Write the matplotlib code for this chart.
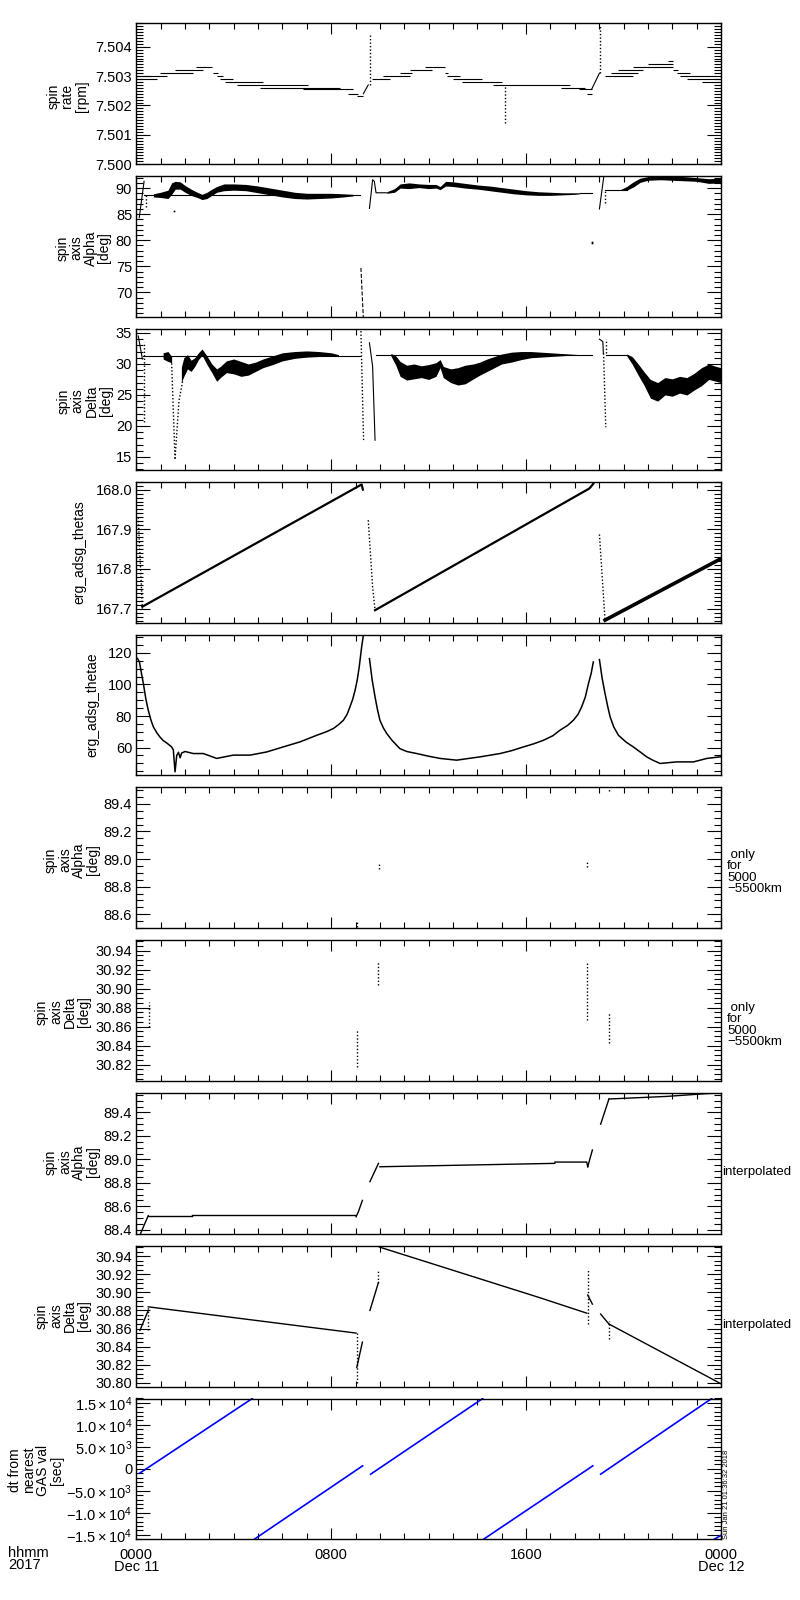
import matplotlib
matplotlib.use("Agg")
import matplotlib.pyplot as plt
from matplotlib.ticker import MultipleLocator, FixedLocator, FuncFormatter

plt.rcParams['font.family'] = ['Liberation Sans', 'DejaVu Sans']
plt.rcParams['mathtext.fontset'] = 'custom'
plt.rcParams['mathtext.rm'] = 'Liberation Sans'
plt.rcParams['mathtext.it'] = 'Liberation Sans:italic'
plt.rcParams['mathtext.bf'] = 'Liberation Sans:bold'
plt.rcParams['axes.unicode_minus'] = True

# ---------------- time axis ----------------
x_ticks = [0, 8, 16, 24]
x_ticklabels = ["0000\nDec 11", "0800", "1600", "0000\nDec 12"]

# ---------------- panel 1: spin rate [rpm] (horizontal steps) ----------------
rate_seg_t0 = [0.00, 0.00, 0.97, 1.59, 2.45, 3.16, 3.30, 3.44, 3.64, 4.12, 5.08, 6.86, 8.70, 9.05,
               9.66, 10.14, 10.82, 11.24, 11.85, 12.67, 12.74, 13.01, 13.36, 14.65, 17.43, 18.17, 18.49,
               19.24, 19.50, 19.79, 20.40, 21.02, 21.84, 22.04, 22.18, 22.32, 22.59, 23.21]
rate_seg_t1 = [1.25, 0.84, 2.34, 2.75, 3.09, 3.37, 3.57, 3.98, 5.21, 7.06, 8.36, 8.91, 9.11, 9.32,
               10.41, 11.24, 11.30, 12.13, 12.67, 12.81, 13.29, 14.18, 15.00, 17.80, 18.42, 18.69, 18.69,
               20.40, 20.60, 20.81, 22.04, 22.04, 22.04, 22.25, 22.73, 23.48, 24.00, 24.00]
rate_seg_v = [7.5030, 7.5029, 7.5031, 7.5032, 7.5033, 7.5031, 7.5030, 7.5029, 7.5028, 7.5027, 7.5026, 7.50255, 7.5024, 7.50233,
              7.5029, 7.5030, 7.5031, 7.5032, 7.5033, 7.5031, 7.5030, 7.5029, 7.5028, 7.5027, 7.5026, 7.50255, 7.5024,
              7.5030, 7.5031, 7.5032, 7.5033, 7.5034, 7.5035, 7.5032, 7.5031, 7.5030, 7.5029, 7.5028]
rate_ramp1_t = [9.32, 9.52]
rate_ramp1_v = [7.5024, 7.5027]
rate_ramp2_t = [18.69, 19.01]
rate_ramp2_v = [7.50255, 7.5031]
rate_spike_t = [9.59, 15.15, 19.04]
rate_spike_lo = [7.5027, 7.5014, 7.5031]
rate_spike_hi = [7.50447, 7.5027, 7.50475]

# ---------------- panel 2: spin axis Alpha [deg] ----------------
alpha_rise0_t = [0.12, 0.32]
alpha_rise0_v = [84.3, 91.3]
alpha_flat1_t = [0.32, 9.19]
alpha_flat1_v = [88.6, 88.6]
alpha_band1_t = [0.70, 1.00, 1.30, 1.45, 1.60, 1.80, 2.00, 2.25, 2.50, 2.70, 2.90, 3.10, 3.30, 3.60, 4.00,
                 4.50, 5.00, 5.50, 6.00, 6.50, 7.00, 7.50, 8.00, 8.50, 8.90]
alpha_band1_lo = [88.3, 88.2, 88.0, 88.8, 89.8, 89.8, 89.2, 88.6, 88.2, 87.8, 88.0, 88.6, 89.2, 89.5, 89.6,
                  89.5, 89.1, 88.7, 88.3, 88.0, 87.9, 88.0, 88.1, 88.3, 88.5]
alpha_band1_hi = [88.9, 89.2, 89.6, 91.0, 91.3, 91.2, 90.5, 89.8, 89.2, 88.8, 89.2, 89.8, 90.3, 90.8, 90.8,
                  90.7, 90.4, 90.0, 89.6, 89.2, 89.0, 89.0, 89.0, 88.9, 88.8]
alpha_drop1_t = [9.22, 9.33]
alpha_drop1_v = [74.7, 64.0]
alpha_rec1_t = [9.57, 9.70, 9.77, 9.84, 10.28]
alpha_rec1_v = [86.1, 91.6, 91.3, 89.1, 89.1]
alpha_band2_t = [10.28, 10.6, 10.83, 11.2, 11.6, 12.0, 12.3, 12.47, 12.7, 13.0, 13.5, 14.0, 14.5, 15.0,
                 15.5, 16.0, 16.5, 17.0, 17.5, 18.0, 18.2]
alpha_band2_lo = [89.0, 89.2, 90.0, 89.9, 90.1, 89.9, 90.0, 89.7, 90.4, 90.3, 90.0, 89.8, 89.5, 89.2,
                  88.9, 88.7, 88.6, 88.6, 88.7, 88.8, 88.9]
alpha_band2_hi = [89.3, 89.9, 90.8, 91.0, 90.8, 90.7, 90.7, 90.3, 91.3, 91.2, 90.9, 90.6, 90.4, 90.1,
                  89.8, 89.5, 89.3, 89.2, 89.1, 89.1, 89.1]
alpha_flat2_t = [18.2, 18.69]
alpha_flat2_v = [89.04, 89.04]
alpha_rise2_t = [19.01, 19.20]
alpha_rise2_v = [86.0, 92.6]
alpha_flat3_t = [19.24, 20.13]
alpha_flat3_v = [89.7, 89.7]
alpha_band3_t = [19.9, 20.13, 20.4, 20.68, 21.0, 21.5, 22.0, 22.5, 23.0, 23.5, 24.0]
alpha_band3_lo = [89.6, 89.6, 90.2, 91.1, 91.5, 91.6, 91.5, 91.4, 91.3, 90.9, 91.0]
alpha_band3_hi = [89.8, 90.3, 91.2, 91.9, 92.2, 92.3, 92.3, 92.2, 92.0, 91.8, 91.9]
alpha_dot_t = [0.39, 19.24]
alpha_dot_lo = [86.4, 87.1]
alpha_dot_hi = [88.6, 89.7]
alpha_pts_t = [1.53, 18.69, 18.72]
alpha_pts_v = [85.6, 79.5, 79.7]

# ---------------- panel 3: spin axis Delta [deg] ----------------
delta_start_t = [0.08, 0.25]
delta_start_v = [34.5, 30.8]
delta_flat1_t = [0.29, 9.20]
delta_flat1_v = [31.3, 31.3]
delta_band1a_t = [1.10, 1.30, 1.45]
delta_band1a_lo = [30.8, 30.4, 30.2]
delta_band1a_hi = [31.8, 32.0, 31.2]
delta_vleft_t = [1.45, 1.59]
delta_vleft_v = [30.1, 14.7]
delta_vright_t = [1.59, 1.75, 1.91]
delta_vright_v = [14.7, 24.0, 27.4]
delta_band1_t = [1.85, 1.95, 2.10, 2.25, 2.40, 2.55, 2.70, 2.90, 3.10, 3.30, 3.45, 3.70, 4.00, 4.30,
                 4.60, 4.90, 5.20, 5.60, 6.00, 6.50, 7.00, 7.50, 8.00, 8.30]
delta_band1_lo = [27.0, 28.0, 29.2, 28.8, 29.6, 30.7, 31.4, 29.9, 28.6, 27.2, 27.8, 28.6, 28.4, 28.0,
                  28.2, 28.8, 29.4, 29.9, 30.5, 30.9, 31.1, 31.2, 31.2, 31.3]
delta_band1_hi = [29.5, 31.0, 31.5, 30.6, 31.0, 31.8, 32.4, 31.3, 30.0, 29.2, 29.6, 30.5, 30.8, 30.4,
                  30.0, 30.3, 30.8, 31.3, 31.8, 32.0, 32.1, 32.0, 31.8, 31.5]
delta_drop1_t = [9.22, 9.33]
delta_drop1_v = [35.3, 17.5]
delta_rec1_t = [9.57, 9.70, 9.80]
delta_rec1_v = [33.4, 29.6, 17.7]
delta_flat2_t = [9.84, 18.69]
delta_flat2_v = [31.45, 31.45]
delta_band2_t = [10.45, 10.65, 10.83, 11.1, 11.4, 11.7, 12.0, 12.3, 12.47, 12.6, 12.9, 13.2, 13.5, 13.84,
                 14.1, 14.4, 14.7, 15.0, 15.4, 15.8, 16.2, 16.6, 17.0, 17.4, 17.8, 18.2]
delta_band2_lo = [31.3, 29.8, 28.0, 27.4, 27.6, 27.8, 27.5, 28.0, 29.4, 27.8, 27.0, 26.6, 26.8, 27.6,
                  28.2, 28.8, 29.4, 30.0, 30.3, 30.7, 31.0, 31.1, 31.2, 31.3, 31.4, 31.4]
delta_band2_hi = [31.7, 31.3, 30.4, 29.8, 30.0, 29.7, 29.9, 30.2, 30.7, 29.6, 29.2, 29.4, 29.8, 30.0,
                  30.3, 30.8, 31.2, 31.6, 31.9, 32.0, 32.0, 31.9, 31.8, 31.7, 31.6, 31.5]
delta_rec2_t = [19.01, 19.15, 19.17]
delta_rec2_v = [34.0, 33.6, 31.7]
delta_drop2_t = [19.18, 19.27]
delta_drop2_v = [31.7, 19.8]
delta_flat3_t = [19.27, 20.13]
delta_flat3_v = [31.44, 31.44]
delta_band3_t = [20.13, 20.35, 20.6, 20.85, 21.1, 21.4, 21.7, 22.0, 22.3, 22.6, 22.9, 23.2, 23.5, 23.8, 24.0]
delta_band3_lo = [31.3, 30.0, 28.2, 26.5, 24.5, 24.0, 25.0, 24.8, 25.3, 25.0, 25.8, 26.5, 27.5, 27.2, 27.0]
delta_band3_hi = [31.6, 31.2, 30.0, 28.7, 27.5, 27.0, 27.8, 27.6, 28.0, 27.8, 28.5, 29.4, 30.0, 29.6, 29.4]
delta_dot_t = [0.30, 19.28]
delta_dot_lo = [20.7, 31.7]
delta_dot_hi = [33.6, 34.0]

# ---------------- panel 4: erg_adsg_thetas ----------------
thetas_drop0_t = [0.08, 0.25]
thetas_drop0_v = [167.93, 167.70]
thetas_ramp1_t = [0.25, 9.25, 9.30]
thetas_ramp1_v = [167.705, 168.013, 168.000]
thetas_drop1_t = [9.52, 9.70, 9.80]
thetas_drop1_v = [167.923, 167.755, 167.696]
thetas_ramp2_t = [9.80, 18.60, 18.76]
thetas_ramp2_v = [167.696, 168.003, 168.015]
thetas_drop2_t = [19.01, 19.24]
thetas_drop2_v = [167.887, 167.671]
thetas_ramp3_t = [19.24, 24.00]
thetas_ramp3_v = [167.671, 167.826]

# ---------------- panel 5: erg_adsg_thetae ----------------
thetae_a_t = [0.05, 0.13, 0.20, 0.29, 0.39, 0.49, 0.60, 0.70, 0.85, 0.97, 1.10, 1.25, 1.45, 1.52, 1.59,
              1.66, 1.73, 1.80, 1.86, 2.00, 2.34, 2.75, 3.30, 3.98, 4.67, 5.35, 6.03, 6.72, 7.41, 7.80,
              8.09, 8.30, 8.50, 8.65, 8.77, 8.88, 8.98, 9.07, 9.15, 9.25, 9.32]
thetae_a_v = [116.5, 114.3, 108.0, 100.6, 91.0, 83.7, 77.5, 73.1, 69.2, 66.7, 64.5, 62.9, 60.4, 58.5, 44.6,
              55.0, 57.0, 53.5, 56.5, 57.5, 56.2, 56.2, 53.1, 55.2, 55.2, 57.2, 60.4, 63.6, 67.8, 70.0,
              72.1, 74.5, 77.3, 81.0, 85.8, 90.5, 96.3, 103.0, 111.1, 123.8, 131.2]
thetae_b_t = [9.57, 9.68, 9.80, 9.90, 10.00, 10.14, 10.28, 10.50, 10.82, 11.10, 11.51, 12.00, 12.47, 13.15,
              13.60, 14.11, 14.93, 15.40, 15.89, 16.30, 16.71, 17.10, 17.39, 17.70, 17.94, 18.13, 18.28,
              18.43, 18.56, 18.67, 18.76]
thetae_b_v = [116.4, 103.0, 92.1, 84.0, 77.3, 72.5, 68.9, 64.5, 59.3, 57.5, 56.2, 54.5, 53.1, 52.0,
              53.0, 54.1, 56.2, 58.0, 60.4, 62.3, 64.6, 67.5, 71.0, 74.0, 77.3, 81.0, 85.8,
              92.0, 100.6, 107.0, 114.3]
thetae_c_t = [19.01, 19.12, 19.24, 19.35, 19.45, 19.60, 19.79, 20.10, 20.40, 20.70, 20.95, 21.20, 21.50,
              22.18, 22.87, 23.42, 23.96, 24.00]
thetae_c_v = [115.8, 104.0, 94.3, 86.0, 79.4, 73.0, 67.8, 63.5, 60.4, 57.0, 54.1, 52.0, 49.9,
              50.9, 50.9, 53.1, 54.1, 54.2]

# ---------------- panel 6: Alpha, only 5000-5500 km ----------------
alpha_km_t = [9.05, 9.96, 18.49, 19.42]
alpha_km_lo = [88.51, 88.93, 88.94, 89.49]
alpha_km_hi = [88.56, 88.97, 88.98, 89.52]

# ---------------- panel 7: Delta, only 5000-5500 km ----------------
delta_km_t = [0.52, 9.05, 9.94, 18.49, 19.42]
delta_km_lo = [30.860, 30.818, 30.904, 30.867, 30.843]
delta_km_hi = [30.886, 30.857, 30.928, 30.927, 30.874]

# ---------------- panel 8: Alpha interpolated ----------------
alpha_i_lines_t = [[0.18, 0.49], [0.49, 2.27], [2.27, 8.98], [9.02, 9.11, 9.28], [9.59, 9.94],
                   [10.00, 17.18], [17.18, 18.49, 18.53], [18.53, 18.72], [19.06, 19.40],
                   [19.40, 21.77, 23.34, 24.00]]
alpha_i_lines_v = [[88.37, 88.52], [88.513, 88.513], [88.522, 88.522], [88.51, 88.55, 88.65], [88.81, 88.966],
                   [88.937, 88.966], [88.977, 88.977, 88.937], [88.937, 89.08], [89.30, 89.515],
                   [89.515, 89.537, 89.56, 89.567]]

# ---------------- panel 9: Delta interpolated ----------------
delta_i_lines_t = [[0.15, 0.49], [0.49, 9.02], [9.05, 9.28], [9.59, 9.94], [9.98, 16.57, 18.49],
                   [18.53, 18.72], [19.06, 19.40], [19.40, 24.00]]
delta_i_lines_v = [[30.858, 30.880], [30.884, 30.855], [30.817, 30.845], [30.880, 30.911], [30.950, 30.894, 30.877],
                   [30.897, 30.887], [30.876, 30.865], [30.865, 30.799]]
delta_i_dot_t = [0.50, 9.05, 9.94, 18.53, 19.40]
delta_i_dot_lo = [30.858, 30.800, 30.910, 30.865, 30.849]
delta_i_dot_hi = [30.884, 30.855, 30.925, 30.925, 30.868]

# ---------------- panel 10: dt from nearest GAS val [sec] ----------------
dt_lines_t = [[0.13, 4.76], [4.84, 9.29], [9.62, 14.22], [14.25, 18.74], [19.06, 23.62], [23.72, 24.00]]
dt_lines_v = [[-1000, 16000], [-16000, 700], [-1200, 16000], [-16000, 700], [-1200, 16000], [-16000, -15100]]
dt_ticks = [-15000, -10000, -5000, 0, 5000, 10000, 15000]
dt_ticklabels = [r'$-1.5\times10^{4}$', r'$-1.0\times10^{4}$', r'$-5.0\times10^{3}$', '0',
                 r'$5.0\times10^{3}$', r'$1.0\times10^{4}$', r'$1.5\times10^{4}$']

ylabels = ["spin\nrate\n[rpm]", "spin\naxis\nAlpha\n[deg]", "spin\naxis\nDelta\n[deg]",
           "erg_adsg_thetas", "erg_adsg_thetae", "spin\naxis\nAlpha\n[deg]", "spin\naxis\nDelta\n[deg]",
           "spin\naxis\nAlpha\n[deg]", "spin\naxis\nDelta\n[deg]", "dt from\nnearest\nGAS val\n[sec]"]
right_labels = [None, None, None, None, None, " only\nfor\n5000\n\u22125500km", " only\nfor\n5000\n\u22125500km",
                "interpolated", "interpolated", None]

# ---------------- layout (pixels) ----------------
W, H = 800, 1600
fig = plt.figure(figsize=(8, 16), dpi=100)
left_px, right_px = 136.3, 721.0
top0, step, ph = 23.3, 152.8, 140.8

ylims = [(7.5000, 7.5048), (65.3, 92.3), (12.95, 35.65), (167.665, 168.02), (42.4, 131.7),
         (88.50, 89.52), (30.803, 30.951), (88.366, 89.567), (30.796, 30.9515), (-16000, 16000)]
ymajor = [0.001, 5, 5, 0.1, 20, 0.2, 0.02, 0.2, 0.02, 5000]
yminor = [0.0001, 1, 1, 0.01, 5, 0.05, 0.005, 0.05, 0.005, 1000]
yfmt = ['%.3f', '%d', '%d', '%.1f', '%d', '%.1f', '%.2f', '%.1f', '%.2f', None]
ylabel_xy = [(67.5, 96), (83.5, 248), (84.5, 401), (79.5, 552.5), (92, 705), (72, 860), (63, 1012),
             (72, 1162), (63, 1316), (36, 1470)]
right_xy = [None, None, None, None, None, (727, 872), (727, 1025), (722, 1172), (722, 1325), None]

FS_TICK = 10.5
FS_LAB = 10

axes = []
for i in range(10):
    top = top0 + step * i
    ax = fig.add_axes([left_px / W, 1 - (top + ph) / H, (right_px - left_px) / W, ph / H])
    ax.set_xlim(0, 24)
    ax.set_ylim(*ylims[i])
    ax.xaxis.set_major_locator(FixedLocator(x_ticks))
    ax.xaxis.set_minor_locator(MultipleLocator(1))
    ax.yaxis.set_major_locator(MultipleLocator(ymajor[i]))
    ax.yaxis.set_minor_locator(MultipleLocator(yminor[i]))
    ax.tick_params(axis='both', which='both', direction='in', top=True, right=True, width=0.8, colors='k')
    ax.tick_params(axis='x', which='major', length=8)
    ax.tick_params(axis='x', which='minor', length=4)
    ax.tick_params(axis='y', which='major', length=10, labelsize=FS_TICK, pad=3)
    ax.tick_params(axis='y', which='minor', length=5)
    if yfmt[i] is not None:
        f = yfmt[i]
        ax.yaxis.set_major_formatter(FuncFormatter(lambda v, p, f=f: (f % v) if f != '%d' else '%d' % round(v)))
    for s in ax.spines.values():
        s.set_linewidth(1.0)
    if i < 9:
        ax.set_xticklabels([])
    axes.append(ax)
    fig.text(ylabel_xy[i][0] / W, 1 - ylabel_xy[i][1] / H, ylabels[i], rotation=90, ha='center', va='center',
             fontsize=FS_LAB, linespacing=1.0, multialignment='center')
    if right_labels[i]:
        fig.text(right_xy[i][0] / W, 1 - right_xy[i][1] / H, right_labels[i], ha='left', va='center',
                 fontsize=9.5, linespacing=0.95, multialignment='left')

K = 'k'
LW = 0.8
DOT = (0, (1, 1.5))

# panel 1
ax = axes[0]
ax.hlines(rate_seg_v, rate_seg_t0, rate_seg_t1, colors=K, lw=LW)
ax.plot(rate_ramp1_t, rate_ramp1_v, color=K, lw=LW)
ax.plot(rate_ramp2_t, rate_ramp2_v, color=K, lw=LW)
ax.vlines(rate_spike_t, rate_spike_lo, rate_spike_hi, colors=K, lw=1.0, linestyles=[DOT])

# panel 2
ax = axes[1]
ax.plot(alpha_rise0_t, alpha_rise0_v, color=K, lw=LW)
ax.plot(alpha_flat1_t, alpha_flat1_v, color=K, lw=LW)
ax.fill_between(alpha_band1_t, alpha_band1_lo, alpha_band1_hi, color=K, lw=0)
ax.plot(alpha_drop1_t, alpha_drop1_v, color=K, lw=LW, ls='--')
ax.plot(alpha_rec1_t, alpha_rec1_v, color=K, lw=LW)
ax.fill_between(alpha_band2_t, alpha_band2_lo, alpha_band2_hi, color=K, lw=0)
ax.plot(alpha_flat2_t, alpha_flat2_v, color=K, lw=LW)
ax.plot(alpha_rise2_t, alpha_rise2_v, color=K, lw=LW)
ax.plot(alpha_flat3_t, alpha_flat3_v, color=K, lw=LW)
ax.fill_between(alpha_band3_t, alpha_band3_lo, alpha_band3_hi, color=K, lw=0)
ax.vlines(alpha_dot_t, alpha_dot_lo, alpha_dot_hi, colors=K, lw=1.0, linestyles=[DOT])
ax.plot(alpha_pts_t, alpha_pts_v, 's', color=K, ms=1.2, mew=0)

# panel 3
ax = axes[2]
ax.plot(delta_start_t, delta_start_v, color=K, lw=LW)
ax.plot(delta_flat1_t, delta_flat1_v, color=K, lw=LW)
ax.fill_between(delta_band1a_t, delta_band1a_lo, delta_band1a_hi, color=K, lw=0)
ax.plot(delta_vleft_t, delta_vleft_v, color=K, lw=1.0, ls=DOT)
ax.plot(delta_vright_t, delta_vright_v, color=K, lw=1.0, ls=DOT)
ax.fill_between(delta_band1_t, delta_band1_lo, delta_band1_hi, color=K, lw=0)
ax.plot(delta_drop1_t, delta_drop1_v, color=K, lw=1.0, ls=DOT)
ax.plot(delta_rec1_t, delta_rec1_v, color=K, lw=LW)
ax.plot(delta_flat2_t, delta_flat2_v, color=K, lw=LW)
ax.fill_between(delta_band2_t, delta_band2_lo, delta_band2_hi, color=K, lw=0)
ax.plot(delta_rec2_t, delta_rec2_v, color=K, lw=LW)
ax.plot(delta_drop2_t, delta_drop2_v, color=K, lw=1.0, ls=DOT)
ax.plot(delta_flat3_t, delta_flat3_v, color=K, lw=LW)
ax.fill_between(delta_band3_t, delta_band3_lo, delta_band3_hi, color=K, lw=0)
ax.vlines(delta_dot_t, delta_dot_lo, delta_dot_hi, colors=K, lw=1.0, linestyles=[DOT])

# panel 4
ax = axes[3]
ax.plot(thetas_drop0_t, thetas_drop0_v, color=K, lw=1.0, ls=DOT)
ax.plot(thetas_ramp1_t, thetas_ramp1_v, color=K, lw=1.6)
ax.plot(thetas_drop1_t, thetas_drop1_v, color=K, lw=1.0, ls=DOT)
ax.plot(thetas_ramp2_t, thetas_ramp2_v, color=K, lw=1.6)
ax.plot(thetas_drop2_t, thetas_drop2_v, color=K, lw=1.0, ls=DOT)
ax.plot(thetas_ramp3_t, thetas_ramp3_v, color=K, lw=2.6)

# panel 5
ax = axes[4]
ax.plot(thetae_a_t, thetae_a_v, color=K, lw=1.1)
ax.plot(thetae_b_t, thetae_b_v, color=K, lw=1.1)
ax.plot(thetae_c_t, thetae_c_v, color=K, lw=1.1)

# panel 6, 7
axes[5].vlines(alpha_km_t, alpha_km_lo, alpha_km_hi, colors=K, lw=1.0, linestyles=[DOT])
axes[6].vlines(delta_km_t, delta_km_lo, delta_km_hi, colors=K, lw=1.0, linestyles=[DOT])

# panel 8, 9
for t, v in zip(alpha_i_lines_t, alpha_i_lines_v):
    axes[7].plot(t, v, color=K, lw=1.0)
for t, v in zip(delta_i_lines_t, delta_i_lines_v):
    axes[8].plot(t, v, color=K, lw=1.0)
axes[8].vlines(delta_i_dot_t, delta_i_dot_lo, delta_i_dot_hi, colors=K, lw=1.0, linestyles=[DOT])

# panel 10
ax = axes[9]
for t, v in zip(dt_lines_t, dt_lines_v):
    ax.plot(t, v, color=(0, 0, 1), lw=1.2)
ax.yaxis.set_major_locator(FixedLocator(dt_ticks))
ax.set_yticklabels(dt_ticklabels)
ax.set_xticklabels(x_ticklabels, fontsize=FS_TICK, linespacing=0.85)
ax.tick_params(axis='x', which='major', pad=6)

fig.text(8 / W, 1 - 1546 / H, "hhmm\n2017", ha='left', va='top', fontsize=FS_TICK, linespacing=0.85)
fig.text(726 / W, 1 - 1539 / H, "Sun Jan 21 01:36:32 2018", rotation=90, ha='center', va='bottom', fontsize=5.5)

fig.savefig("out.png", dpi=100)
